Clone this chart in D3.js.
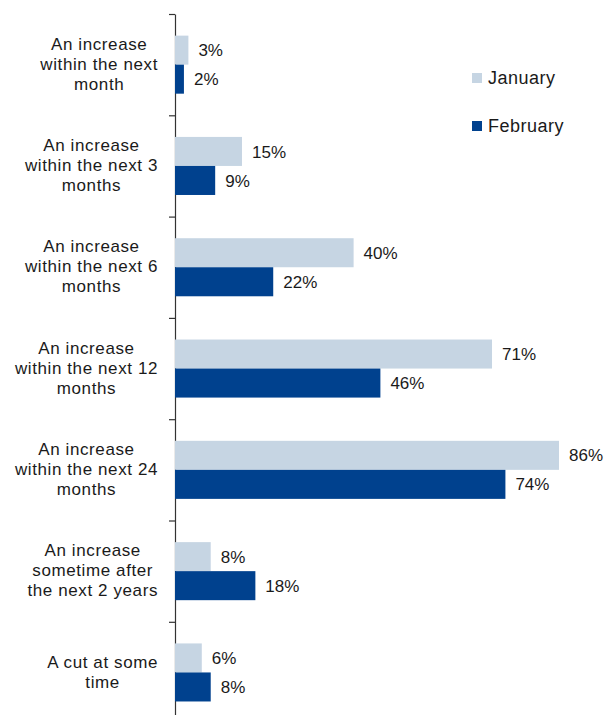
<!DOCTYPE html>
<html>
<head>
<meta charset="utf-8">
<script src="https://cdn.jsdelivr.net/npm/d3@7"></script>
<style>
  body { margin: 0; background: #fff; }
  text { font-family: "Liberation Sans", Arial, sans-serif; fill: #1a1a1a; }
</style>
</head>
<body>
<div id="chart"></div>
<script>
const categories = [
  ["An increase", "within the next", "month"],
  ["An increase", "within the next 3", "months"],
  ["An increase", "within the next 6", "months"],
  ["An increase", "within the next 12", "months"],
  ["An increase", "within the next 24", "months"],
  ["An increase", "sometime after", "the next 2 years"],
  ["A cut at some", "time"]
];
const series = ["January", "February"];
const january = [3, 15, 40, 71, 86, 8, 6];
const february = [2, 9, 22, 46, 74, 18, 8];
const colors = ["#c6d5e3", "#00418e"];

let width = 614,
    height = 715;

const svg = d3.select("#chart")
    .append("svg")
    .attr("width", width)
    .attr("height", height);

const marginTop = 14, axisX = 175, band = 101.3;
const labelRight = 158;

const y = d3.scaleBand()
    .domain(d3.range(categories.length))
    .range([marginTop, marginTop + band * categories.length])
    .paddingInner(0);

const ySub = d3.scaleBand()
    .domain(series)
    .range([0, y.bandwidth()])
    .paddingInner(0)
    .paddingOuter(0.745);

const x = d3.scaleLinear()
    .domain([0, 100])
    .range([axisX, axisX + 446.5]);

// left axis with ticks on category boundaries
const yEdges = d3.scaleLinear()
    .domain([0, categories.length])
    .range([marginTop, marginTop + band * categories.length]);

svg.append("g")
    .attr("transform", "translate(" + axisX + ",0)")
    .call(d3.axisLeft(yEdges)
      .tickValues(d3.range(categories.length + 1))
      .tickSize(6)
      .tickSizeOuter(0)
      .tickFormat(""))
    .call(g => g.selectAll("line, path").attr("stroke", "#333").attr("stroke-width", 1.2));

const rows = categories.map(function (c, i) {
  return { i: i, values: [january[i], february[i]] };
});

const group = svg.selectAll(".cat")
    .data(rows)
    .enter().append("g")
    .attr("class", "cat")
    .attr("transform", function (d) { return "translate(0," + y(d.i) + ")"; });

group.selectAll("rect")
    .data(function (d) { return d.values.map(function (v, k) { return { s: series[k], v: v, k: k }; }); })
    .enter().append("rect")
    .attr("x", x(0))
    .attr("y", function (d) { return ySub(d.s); })
    .attr("width", function (d) { return x(d.v) - x(0); })
    .attr("height", ySub.bandwidth())
    .attr("fill", function (d) { return colors[d.k]; });

group.selectAll(".val")
    .data(function (d) { return d.values.map(function (v, k) { return { s: series[k], v: v }; }); })
    .enter().append("text")
    .attr("class", "val")
    .attr("x", function (d) { return x(d.v) + 10; })
    .attr("y", function (d) { return ySub(d.s) + ySub.bandwidth() / 2; })
    .attr("dy", "0.36em")
    .style("font-size", "17px")
    .text(function (d) { return d.v + "%"; });

// category labels: block right-aligned near the axis, lines centred in the block
const lineH = 20;
group.append("text")
    .attr("text-anchor", "middle")
    .style("font-size", "17px")
    .style("letter-spacing", "0.6px")
    .each(function (d) {
      const lines = categories[d.i];
      const t = d3.select(this);
      const spans = lines.map(function (l, j) {
        return t.append("tspan")
          .attr("y", y.bandwidth() / 2 - 1 + (j - (lines.length - 1) / 2) * lineH)
          .attr("dy", "0.36em")
          .text(l);
      });
      const maxW = d3.max(spans, function (s) { return s.node().getComputedTextLength(); });
      spans.forEach(function (s) { s.attr("x", labelRight - maxW / 2); });
    });

// legend
const legend = svg.selectAll(".legend")
    .data(series)
    .enter().append("g")
    .attr("class", "legend")
    .attr("transform", function (d, i) { return "translate(472," + (78 + i * 48) + ")"; });

legend.append("rect")
    .attr("y", -5)
    .attr("width", 10)
    .attr("height", 10)
    .attr("fill", function (d, i) { return colors[i]; });

legend.append("text")
    .attr("x", 16)
    .attr("dy", "0.36em")
    .style("font-size", "18px")
    .style("letter-spacing", "0.5px")
    .text(function (d) { return d; });
</script>
</body>
</html>
